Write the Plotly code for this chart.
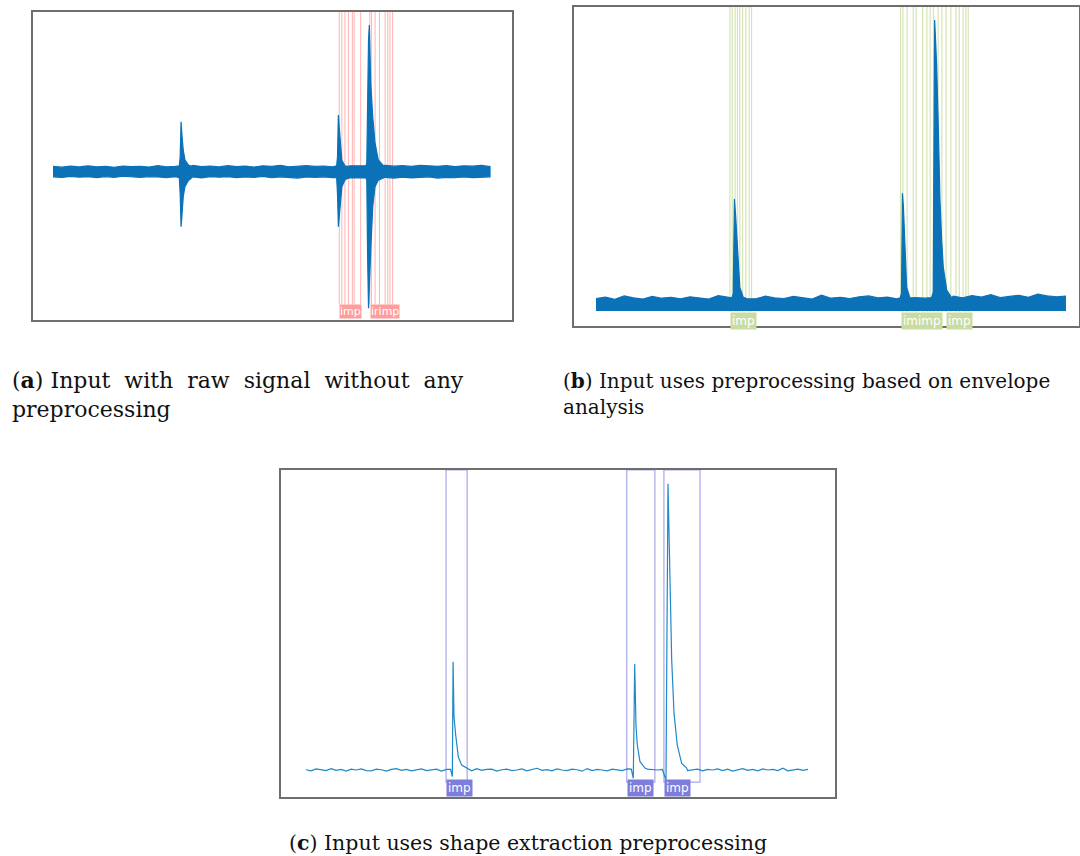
import plotly.graph_objects as go

# ---------------- data ----------------
DT_AB = 0.2          # noise sampling step for panels a, b
DT_C = 0.1           # noise sampling step for panel c

# Panel (a): raw signal, upper / lower envelope of the noise band
A_NOISE_UP = [0.036, 0.031, 0.038, 0.033, 0.040, 0.034, 0.037, 0.030, 0.039, 0.035,
              0.037, 0.032, 0.041, 0.034, 0.036, 0.038, 0.043, 0.035, 0.039, 0.033,
              0.041, 0.035, 0.038, 0.032, 0.040, 0.036, 0.044, 0.034, 0.038, 0.041,
              0.036, 0.039, 0.034, 0.037, 0.040, 0.042, 0.045, 0.040, 0.043, 0.038,
              0.041, 0.036, 0.044, 0.039, 0.037, 0.042, 0.035, 0.040, 0.038, 0.043,
              0.036]
A_NOISE_LO = [-0.035, -0.039, -0.032, -0.037, -0.034, -0.040, -0.033, -0.038, -0.031, -0.036,
              -0.038, -0.033, -0.036, -0.041, -0.034, -0.039, -0.035, -0.042, -0.033, -0.037,
              -0.034, -0.040, -0.036, -0.038, -0.032, -0.041, -0.035, -0.039, -0.043, -0.036,
              -0.038, -0.035, -0.040, -0.036, -0.042, -0.039, -0.044, -0.041, -0.038, -0.043,
              -0.037, -0.042, -0.039, -0.035, -0.043, -0.038, -0.041, -0.036, -0.040, -0.037,
              -0.035]
A_SPIKE_T = [2.89, 2.91, 2.93, 2.95, 2.98, 3.02, 3.10, 3.16,
             6.49, 6.51, 6.53, 6.55, 6.57, 6.61, 6.68, 6.74,
             7.16, 7.18, 7.20, 7.22, 7.238, 7.26, 7.27, 7.316, 7.368, 7.444, 7.558]
A_SPIKE_UP = [0.040, 0.100, 0.341, 0.250, 0.148, 0.080, 0.046, 0.038,
              0.040, 0.100, 0.386, 0.300, 0.216, 0.078, 0.040, 0.036,
              0.040, 0.060, 0.550, 0.900, 1.000, 0.750, 0.605, 0.375, 0.196, 0.080, 0.042]
A_SPIKE_LO = [-0.040, -0.150, -0.375, -0.300, -0.170, -0.100, -0.060, -0.045,
              -0.040, -0.150, -0.375, -0.300, -0.239, -0.102, -0.057, -0.045,
              -0.040, -0.060, -0.600, -0.930, -0.850, -0.650, -0.534, -0.239, -0.102, -0.057, -0.042]
A_MARKS = [6.55, 6.61, 6.68, 6.76, 6.85, 6.89, 7.04, 7.25, 7.29, 7.37, 7.47, 7.60, 7.66, 7.71, 7.77]
A_LABEL_T = [6.55, 7.25]
A_LABEL_TEXT = ["imp", "irimp"]

# Panel (b): envelope signal
B_NOISE = [0.043, 0.048, 0.040, 0.052, 0.045, 0.041, 0.050, 0.044, 0.047, 0.042,
           0.049, 0.045, 0.041, 0.053, 0.046, 0.044, 0.048, 0.042, 0.051, 0.045,
           0.043, 0.050, 0.046, 0.041, 0.055, 0.044, 0.047, 0.043, 0.049, 0.052,
           0.045, 0.048, 0.042, 0.050, 0.046, 0.044, 0.049, 0.047, 0.051, 0.045,
           0.053, 0.048, 0.056, 0.046, 0.050, 0.054, 0.047, 0.058, 0.052, 0.049,
           0.051]
B_SPIKE_T = [2.89, 2.92, 2.945, 2.97, 2.99, 3.03, 3.06, 3.13, 3.21,
             6.47, 6.50, 6.52, 6.54, 6.574, 6.61, 6.68,
             7.14, 7.175, 7.205, 7.22, 7.249, 7.283, 7.319, 7.355, 7.389, 7.462, 7.568]
B_SPIKE_V = [0.045, 0.060, 0.385, 0.330, 0.268, 0.151, 0.082, 0.048, 0.042,
             0.045, 0.060, 0.405, 0.360, 0.199, 0.082, 0.045,
             0.046, 0.065, 1.000, 0.950, 0.840, 0.633, 0.381, 0.244, 0.151, 0.072, 0.045]
B_MARKS = [2.85, 2.90, 2.96, 3.01, 3.06, 3.12, 3.19, 3.26, 3.31,
           6.48, 6.53, 6.62, 6.75, 6.81, 6.95, 7.04, 7.11, 7.18, 7.28, 7.36,
           7.45, 7.55, 7.66, 7.73, 7.81, 7.87, 7.92]
B_LABEL_T = [2.85, 6.48, 7.45]
B_LABEL_TEXT = ["imp", "imimp", "imp"]

# Panel (c): shape extraction
C_NOISE = [0.001, -0.003, 0.004, 0.000, -0.002, 0.005, -0.001, 0.002, -0.004, 0.003,
           0.000, 0.004, -0.002, -0.003, 0.003, 0.001, -0.004, 0.002, 0.005, -0.001,
           0.002, -0.003, 0.001, 0.004, -0.002, 0.000, 0.003, -0.004, 0.002, 0.001,
           -0.002, 0.004, 0.000, -0.003, 0.005, -0.001, 0.002, 0.003, -0.004, 0.001,
           0.003, -0.002, 0.000, 0.004, -0.003, 0.002, 0.006, -0.001, 0.001, -0.003,
           0.004, 0.000, -0.002, 0.003, 0.001, -0.004, 0.005, -0.002, 0.002, 0.000,
           -0.003, 0.003, 0.001, -0.002, 0.004, -0.001, 0.002, -0.004, 0.003, 0.001,
           0.000, 0.004, -0.003, 0.002, -0.001, 0.005, -0.002, 0.001, 0.003, -0.003,
           0.002, 0.000, 0.004, -0.002, 0.003, -0.004, 0.001, 0.005, -0.001, 0.002,
           -0.003, 0.004, 0.000, 0.002, -0.002, 0.006, -0.003, 0.001, 0.003, -0.001,
           0.002]
C_SPIKE_T = [2.88, 2.915, 2.93, 2.948, 2.982, 3.034, 3.10, 3.20,
             6.48, 6.52, 6.548, 6.574, 6.60, 6.653, 6.753,
             7.10, 7.171, 7.211, 7.251, 7.285, 7.331, 7.396, 7.484, 7.584]
C_SPIKE_V = [0.002, -0.023, 0.377, 0.186, 0.122, 0.046, 0.017, 0.007,
             0.003, -0.029, 0.369, 0.151, 0.087, 0.029, 0.007,
             0.002, -0.035, 0.997, 0.616, 0.383, 0.198, 0.087, 0.023, 0.007]
C_BOX_START = [2.79, 6.39, 7.13]
C_BOX_END = [3.21, 6.95, 7.85]
C_LABEL_TEXT = ["imp", "imp", "imp"]

NBSP = "\u00a0"
CAPTION_A = ("(<b>a</b>) Input" + NBSP + " with" + NBSP + " raw" + NBSP + " signal" + NBSP +
             " without" + NBSP + " any<br>preprocessing")
CAPTION_B = "(<b>b</b>) Input uses preprocessing based on envelope<br>analysis"
CAPTION_C = "(<b>c</b>) Input uses shape extraction preprocessing"


# ---------------- helpers ----------------
def merge(noise_cols, dt, spike_t, spike_cols):
    n = len(noise_cols[0])
    noise_t = [round(i * dt, 6) for i in range(n)]
    windows = []
    start = spike_t[0]
    prev = spike_t[0]
    for t in spike_t[1:]:
        if t - prev > 0.3:
            windows.append((start, prev))
            start = t
        prev = t
    windows.append((start, prev))
    pts = []
    for i, t in enumerate(noise_t):
        if any(w0 - 0.01 <= t <= w1 + 0.01 for w0, w1 in windows):
            continue
        pts.append((t,) + tuple(c[i] for c in noise_cols))
    for j, t in enumerate(spike_t):
        pts.append((t,) + tuple(c[j] for c in spike_cols))
    pts.sort(key=lambda p: p[0])
    return [list(col) for col in zip(*pts)]


W, H = 1080, 856
BLUE = "#0b72b8"

XA_DOM = [33 / W, 512 / W]
YA_DOM = [1 - 320 / H, 1 - 12 / H]
XB_DOM = [574 / W, 1079 / W]
YB_DOM = [1 - 326 / H, 1 - 7 / H]
XC_DOM = [281 / W, 835 / W]
YC_DOM = [1 - 797 / H, 1 - 470 / H]

XA_R = [-0.458, 10.503]
YA_R = [-1.011, 1.089]
XB_R = [-0.468, 10.277]
YB_R = [-0.0515, 1.045]
XC_R = [-0.498, 10.538]
YC_R = [-0.094, 1.045]

fig = go.Figure()

a_t, a_up, a_lo = merge([A_NOISE_UP, A_NOISE_LO], DT_AB, A_SPIKE_T, [A_SPIKE_UP, A_SPIKE_LO])
fig.add_trace(go.Scatter(
    x=a_t + a_t[::-1], y=a_up + a_lo[::-1], fill="toself", fillcolor=BLUE,
    mode="lines", line=dict(color=BLUE, width=1.2), xaxis="x", yaxis="y",
    hoverinfo="skip", showlegend=False))

b_t, b_v = merge([B_NOISE], DT_AB, B_SPIKE_T, [B_SPIKE_V])
fig.add_trace(go.Scatter(
    x=b_t, y=b_v, fill="tozeroy", fillcolor=BLUE, mode="lines",
    line=dict(color=BLUE, width=1.2), xaxis="x2", yaxis="y2",
    hoverinfo="skip", showlegend=False))

c_t, c_v = merge([C_NOISE], DT_C, C_SPIKE_T, [C_SPIKE_V])
fig.add_trace(go.Scatter(
    x=c_t, y=c_v, mode="lines", line=dict(color="#1f88c6", width=1.2),
    xaxis="x3", yaxis="y3", hoverinfo="skip", showlegend=False))

shapes = []
annotations = []

for t in A_MARKS:
    shapes.append(dict(type="line", xref="x", yref="y", x0=t, x1=t, y0=-0.905, y1=YA_R[1],
                       line=dict(color="#ffb4b4", width=1), layer="below"))
for t, txt in zip(A_LABEL_T, A_LABEL_TEXT):
    annotations.append(dict(x=t, y=-0.905, xref="x", yref="y", text=txt,
                            showarrow=False, xanchor="left", yanchor="top",
                            bgcolor="#ff9d9d", borderpad=0,
                            font=dict(family="DejaVu Sans", size=11, color="white")))

for t in B_MARKS:
    shapes.append(dict(type="line", xref="x2", yref="y2", x0=t, x1=t, y0=-0.003, y1=YB_R[1],
                       line=dict(color="#d6e5b6", width=1.2), layer="below"))
for t, txt in zip(B_LABEL_T, B_LABEL_TEXT):
    annotations.append(dict(x=t, y=-0.003, xref="x2", yref="y2", text=txt,
                            showarrow=False, xanchor="left", yanchor="top",
                            bgcolor="#c9dca2", borderpad=1,
                            font=dict(family="DejaVu Sans", size=12, color="white")))

for x0, x1, txt in zip(C_BOX_START, C_BOX_END, C_LABEL_TEXT):
    shapes.append(dict(type="rect", xref="x3", yref="y3", x0=x0, x1=x1, y0=-0.042, y1=YC_R[1],
                       line=dict(color="#a7a7ea", width=1.2), layer="below"))
    annotations.append(dict(x=x0, y=-0.031, xref="x3", yref="y3", text=txt,
                            showarrow=False, xanchor="left", yanchor="top",
                            bgcolor="#7d7ddb", borderpad=1,
                            font=dict(family="DejaVu Sans", size=12, color="white")))

SERIF = "DejaVu Serif"
annotations.append(dict(x=10 / W, y=1 - 394 / H, xref="paper", yref="paper", text=CAPTION_A,
                        showarrow=False, xanchor="left", yanchor="middle", align="left",
                        font=dict(family=SERIF, size=22, color="#111111")))
annotations.append(dict(x=561 / W, y=1 - 394 / H, xref="paper", yref="paper", text=CAPTION_B,
                        showarrow=False, xanchor="left", yanchor="middle", align="left",
                        font=dict(family=SERIF, size=20, color="#111111")))
annotations.append(dict(x=528 / W, y=1 - 843 / H, xref="paper", yref="paper", text=CAPTION_C,
                        showarrow=False, xanchor="center", yanchor="middle", align="center",
                        font=dict(family=SERIF, size=20.5, color="#111111")))

axis_common = dict(showgrid=False, zeroline=False, showticklabels=False, ticks="",
                   showline=True, mirror=True, linecolor="#6e6e6e", linewidth=1.5,
                   fixedrange=True)

fig.update_layout(
    width=W, height=H, margin=dict(l=0, r=0, t=0, b=0),
    paper_bgcolor="white", plot_bgcolor="white", showlegend=False,
    xaxis=dict(domain=XA_DOM, range=XA_R, anchor="y", **axis_common),
    yaxis=dict(domain=YA_DOM, range=YA_R, anchor="x", **axis_common),
    xaxis2=dict(domain=XB_DOM, range=XB_R, anchor="y2", **axis_common),
    yaxis2=dict(domain=YB_DOM, range=YB_R, anchor="x2", **axis_common),
    xaxis3=dict(domain=XC_DOM, range=XC_R, anchor="y3", **axis_common),
    yaxis3=dict(domain=YC_DOM, range=YC_R, anchor="x3", **axis_common),
    shapes=shapes, annotations=annotations,
)

fig.write_html("out.html")
